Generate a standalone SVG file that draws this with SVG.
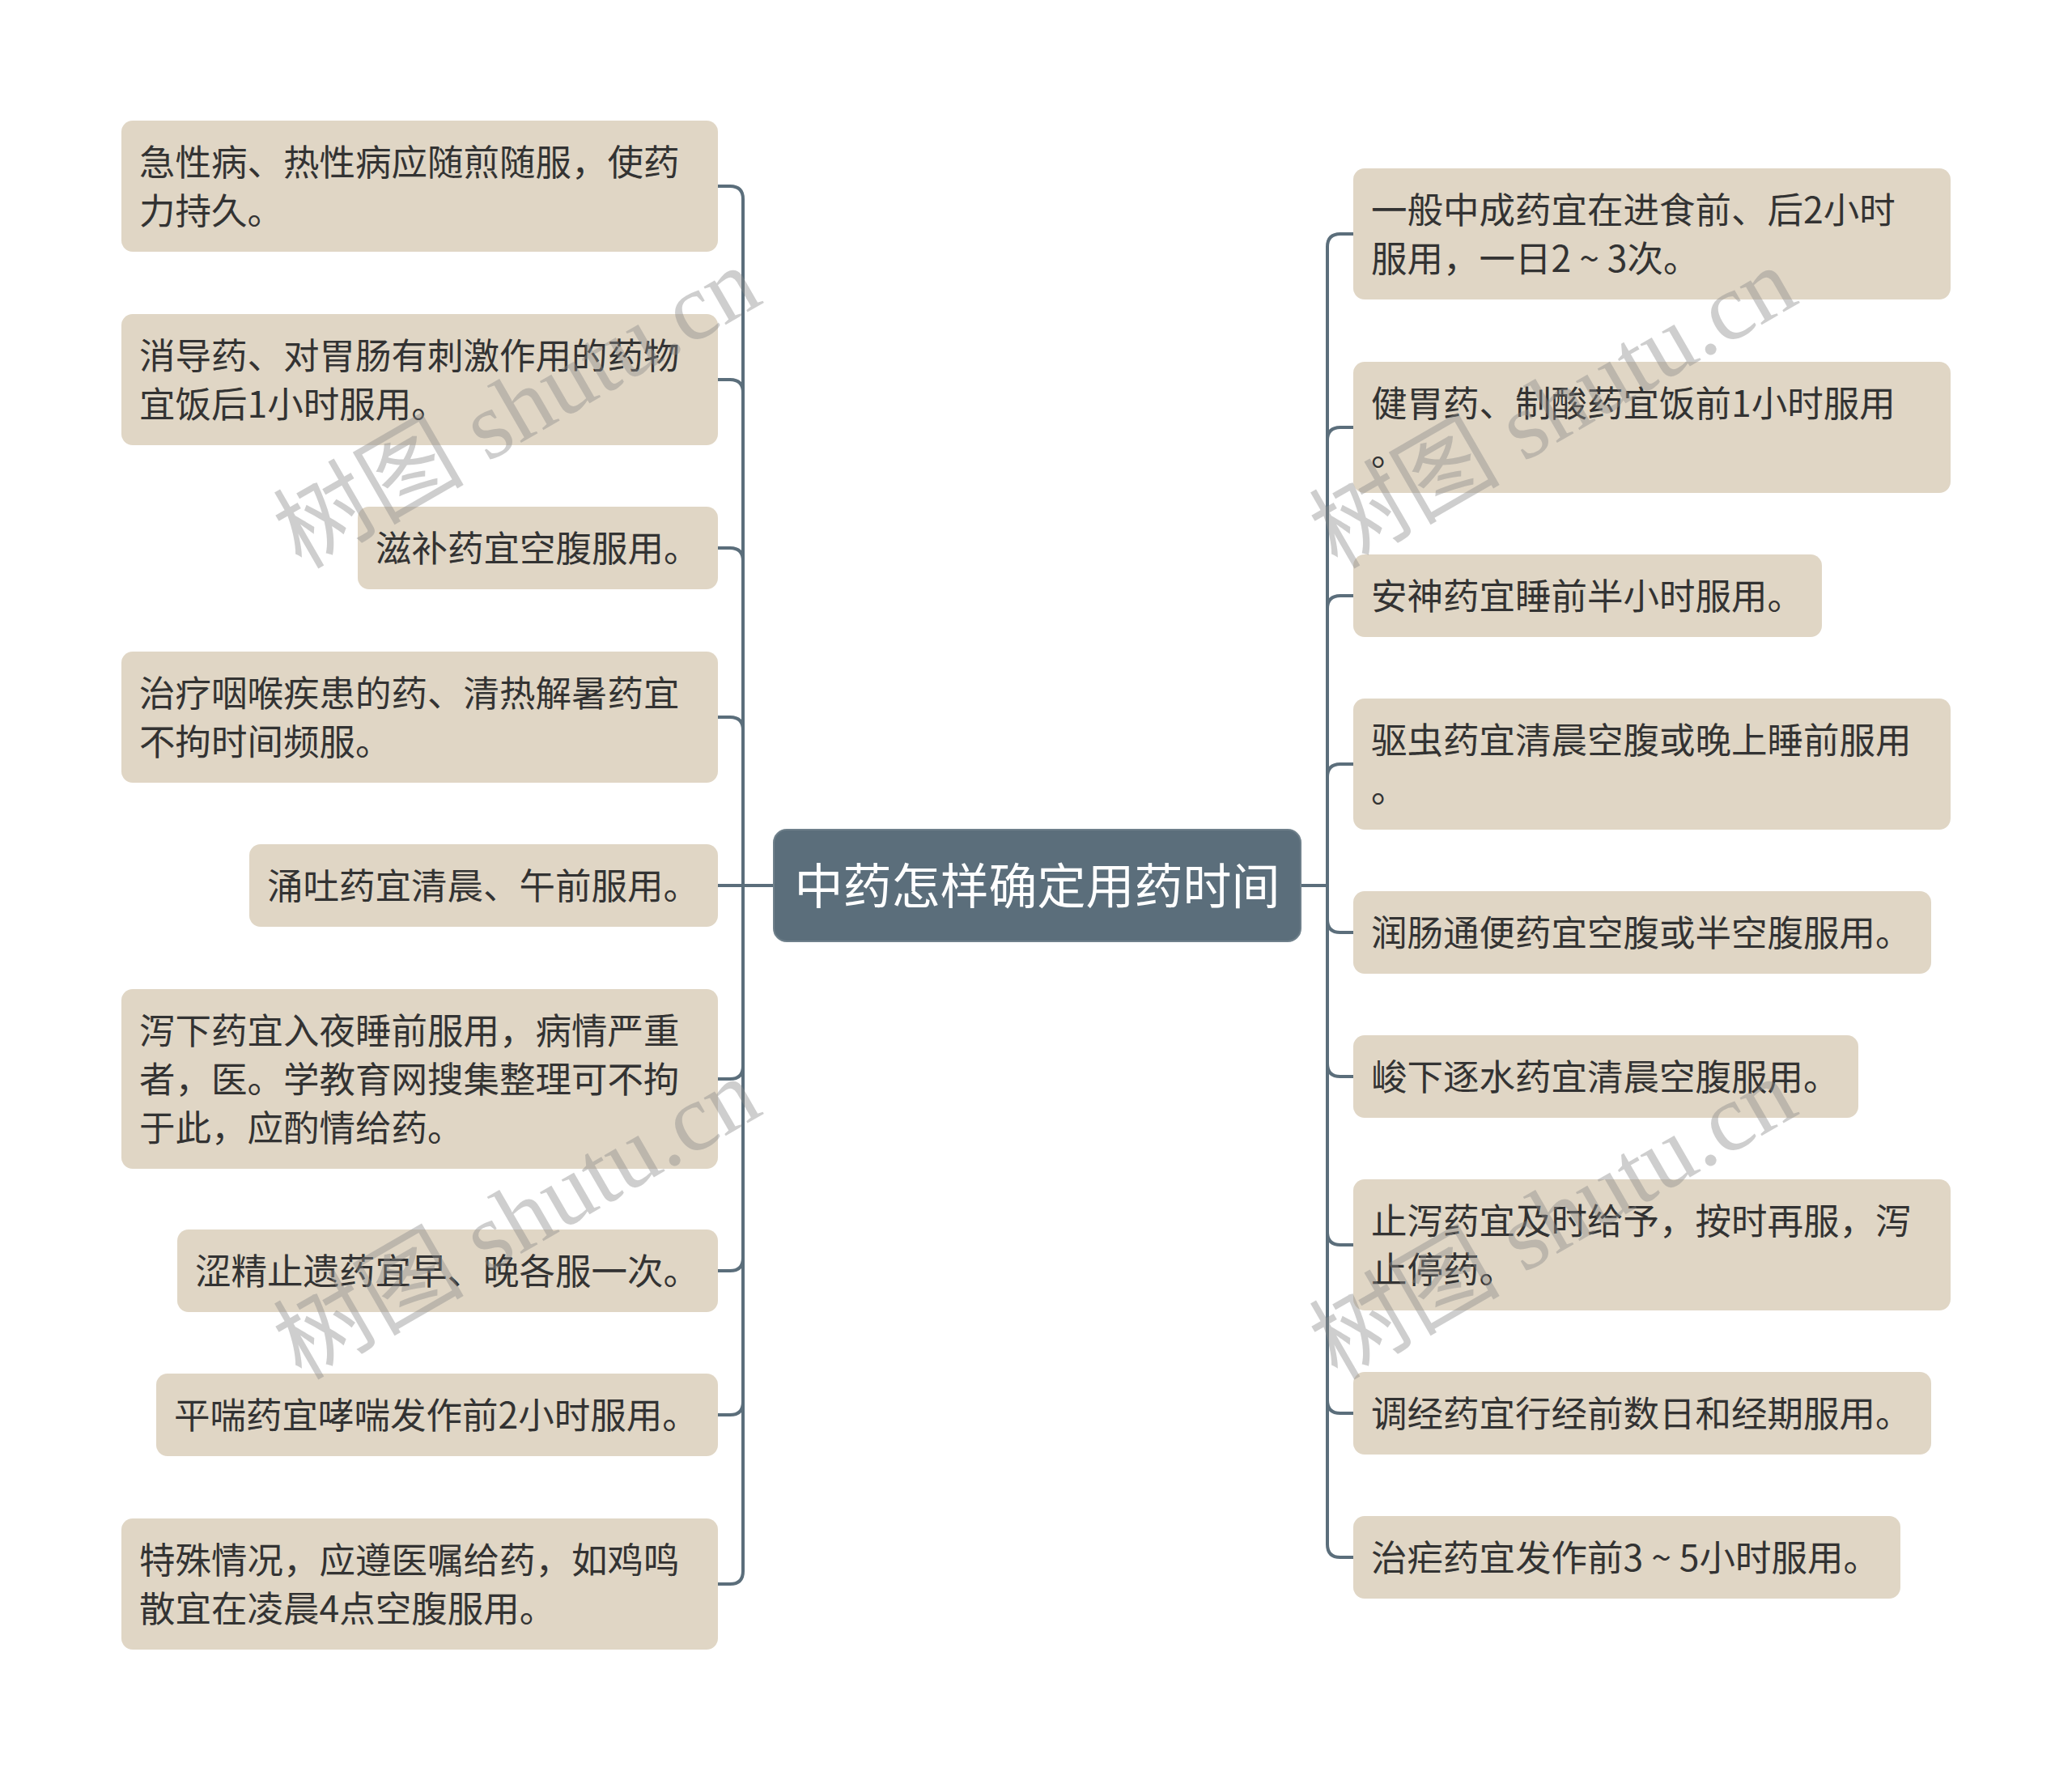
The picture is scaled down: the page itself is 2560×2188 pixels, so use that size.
<svg xmlns="http://www.w3.org/2000/svg" width="2560" height="2188" viewBox="0 0 2560 2188">
<style>
.n rect{fill:#e0d6c5;}
.n text{font-family:"Noto Sans CJK SC","Noto Sans",sans-serif;font-size:44.5px;fill:#333333;}
.c rect{fill:#5b6e7b;stroke:#6f808b;stroke-width:2;}
.c text{font-family:"Noto Sans CJK SC","Noto Sans",sans-serif;font-size:60px;fill:#ffffff;text-anchor:middle;}
.lk path{fill:none;stroke:#5b6e7b;stroke-width:4;}
.wm text{font-family:"Liberation Serif","Noto Sans CJK SC",serif;font-size:118px;fill:#8a8a8a;fill-opacity:0.42;}
</style>
<rect width="2560" height="2188" fill="#ffffff"/>
<g class="lk" id="connectors">
<path d="M956,1094 H918 V246 Q918,230 902,230 H887"/>
<path d="M956,1094 H918 V485 Q918,469 902,469 H887"/>
<path d="M956,1094 H918 V693 Q918,677 902,677 H887"/>
<path d="M956,1094 H918 V902 Q918,886 902,886 H887"/>
<path d="M956,1094 H887"/>
<path d="M956,1094 H918 V1317 Q918,1333 902,1333 H887"/>
<path d="M956,1094 H918 V1554 Q918,1570 902,1570 H887"/>
<path d="M956,1094 H918 V1732 Q918,1748 902,1748 H887"/>
<path d="M956,1094 H918 V1941 Q918,1957 902,1957 H887"/>
<path d="M1607,1094 H1640 V305 Q1640,289 1656,289 H1672"/>
<path d="M1607,1094 H1640 V544 Q1640,528 1656,528 H1672"/>
<path d="M1607,1094 H1640 V752 Q1640,736 1656,736 H1672"/>
<path d="M1607,1094 H1640 V960 Q1640,944 1656,944 H1672"/>
<path d="M1607,1094 H1640 V1136 Q1640,1152 1656,1152 H1672"/>
<path d="M1607,1094 H1640 V1314 Q1640,1330 1656,1330 H1672"/>
<path d="M1607,1094 H1640 V1522 Q1640,1538 1656,1538 H1672"/>
<path d="M1607,1094 H1640 V1730 Q1640,1746 1656,1746 H1672"/>
<path d="M1607,1094 H1640 V1908 Q1640,1924 1656,1924 H1672"/>
</g>
<g class="c" id="center"><rect x="956" y="1025" width="651" height="138" rx="16"/><text x="1281.5" y="1117">中药怎样确定用药时间</text></g>
<g class="n" id="L1"><rect x="150" y="149" width="737" height="162" rx="14"/><text x="172" y="217">急性病、热性病应随煎随服，使药</text><text x="172" y="277">力持久。</text></g>
<g class="n" id="L2"><rect x="150" y="388" width="737" height="162" rx="14"/><text x="172" y="456">消导药、对胃肠有刺激作用的药物</text><text x="172" y="516">宜饭后1小时服用。</text></g>
<g class="n" id="L3"><rect x="442" y="626" width="445" height="102" rx="14"/><text x="464" y="694">滋补药宜空腹服用。</text></g>
<g class="n" id="L4"><rect x="150" y="805" width="737" height="162" rx="14"/><text x="172" y="873">治疗咽喉疾患的药、清热解暑药宜</text><text x="172" y="933">不拘时间频服。</text></g>
<g class="n" id="L5"><rect x="308" y="1043" width="579" height="102" rx="14"/><text x="330" y="1111">涌吐药宜清晨、午前服用。</text></g>
<g class="n" id="L6"><rect x="150" y="1222" width="737" height="222" rx="14"/><text x="172" y="1290">泻下药宜入夜睡前服用，病情严重</text><text x="172" y="1350">者，医。学教育网搜集整理可不拘</text><text x="172" y="1410">于此，应酌情给药。</text></g>
<g class="n" id="L7"><rect x="219" y="1519" width="668" height="102" rx="14"/><text x="241" y="1587">涩精止遗药宜早、晚各服一次。</text></g>
<g class="n" id="L8"><rect x="193" y="1697" width="694" height="102" rx="14"/><text x="215" y="1765">平喘药宜哮喘发作前2小时服用。</text></g>
<g class="n" id="L9"><rect x="150" y="1876" width="737" height="162" rx="14"/><text x="172" y="1944">特殊情况，应遵医嘱给药，如鸡鸣</text><text x="172" y="2004">散宜在凌晨4点空腹服用。</text></g>
<g class="n" id="R1"><rect x="1672" y="208" width="738" height="162" rx="14"/><text x="1694" y="276">一般中成药宜在进食前、后2小时</text><text x="1694" y="336">服用，一日2 ~ 3次。</text></g>
<g class="n" id="R2"><rect x="1672" y="447" width="738" height="162" rx="14"/><text x="1694" y="515">健胃药、制酸药宜饭前1小时服用</text><text x="1694" y="575">。</text></g>
<g class="n" id="R3"><rect x="1672" y="685" width="579" height="102" rx="14"/><text x="1694" y="753">安神药宜睡前半小时服用。</text></g>
<g class="n" id="R4"><rect x="1672" y="863" width="738" height="162" rx="14"/><text x="1694" y="931">驱虫药宜清晨空腹或晚上睡前服用</text><text x="1694" y="991">。</text></g>
<g class="n" id="R5"><rect x="1672" y="1101" width="714" height="102" rx="14"/><text x="1694" y="1169">润肠通便药宜空腹或半空腹服用。</text></g>
<g class="n" id="R6"><rect x="1672" y="1279" width="624" height="102" rx="14"/><text x="1694" y="1347">峻下逐水药宜清晨空腹服用。</text></g>
<g class="n" id="R7"><rect x="1672" y="1457" width="738" height="162" rx="14"/><text x="1694" y="1525">止泻药宜及时给予，按时再服，泻</text><text x="1694" y="1585">止停药。</text></g>
<g class="n" id="R8"><rect x="1672" y="1695" width="714" height="102" rx="14"/><text x="1694" y="1763">调经药宜行经前数日和经期服用。</text></g>
<g class="n" id="R9"><rect x="1672" y="1873" width="676" height="102" rx="14"/><text x="1694" y="1941">治疟药宜发作前3 ~ 5小时服用。</text></g>
<g class="wm" id="watermarks">
<text transform="translate(372,704) rotate(-30)">树图 shutu.cn</text>
<text transform="translate(372,1706) rotate(-30)">树图 shutu.cn</text>
<text transform="translate(1652,704) rotate(-30)">树图 shutu.cn</text>
<text transform="translate(1652,1706) rotate(-30)">树图 shutu.cn</text>
</g>
</svg>
